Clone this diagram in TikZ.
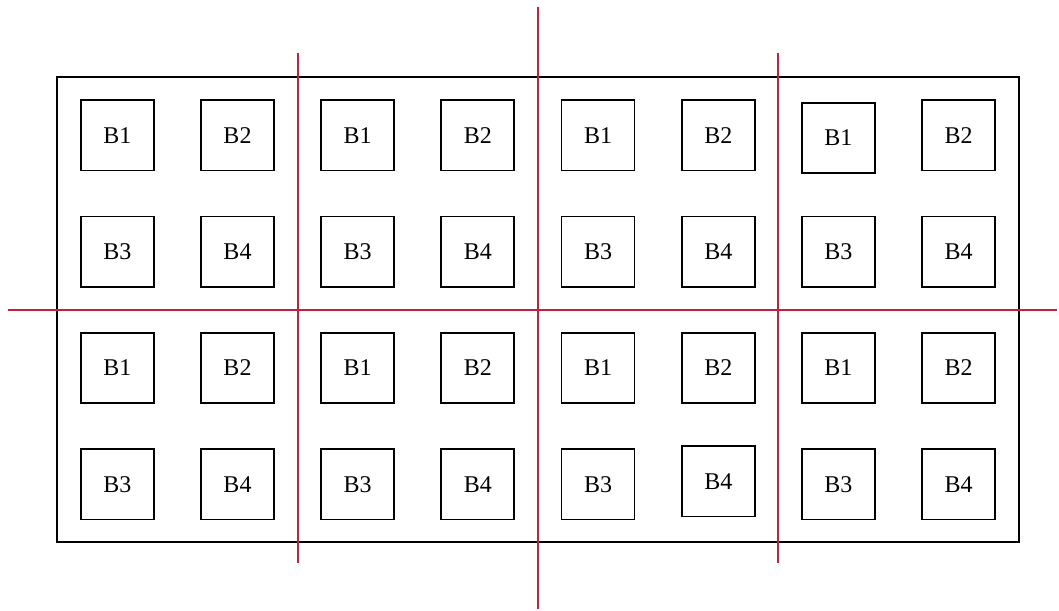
\documentclass[tikz,border=0pt]{standalone}
\usepackage{fontspec}
\setmainfont{Liberation Serif}
\definecolor{gridred}{RGB}{200,30,60}
\begin{document}
\begin{tikzpicture}[x=1pt,y=-1pt,
  cell/.style={draw=black,line width=1.8pt,minimum width=73pt,minimum height=70.5pt,inner sep=0pt,
    font=\fontsize{24}{28}\selectfont},
  frame/.style={draw=black,line width=1.8pt},
  divider/.style={draw=gridred,line width=2pt}]
\useasboundingbox (0,0) rectangle (1059,610);
\draw[frame] (57.3,77.3) rectangle (1019,541.7);
\foreach \c/\x/\ta/\tb in {1/117.3/B1/B3,2/237.5/B2/B4,3/357.5/B1/B3,4/477.8/B2/B4,
                           5/598/B1/B3,6/718.3/B2/B4,7/838.3/B1/B3,8/958.5/B2/B4}{
  \ifnum\c=7 \def\ya{138}\else\def\ya{135.3}\fi
  \ifnum\c=6 \def\yd{481.3}\else\def\yd{484.2}\fi
  \node[cell] (b-1-\c) at (\x,\ya) {\ta};
  \node[cell] (b-2-\c) at (\x,251.7) {\tb};
  \node[cell] (b-3-\c) at (\x,368) {\ta};
  \node[cell] (b-4-\c) at (\x,\yd) {\tb};
}
\coordinate (v1t) at (297.5,53);  \coordinate (v1b) at (297.5,563);
\coordinate (v2t) at (538,7);     \coordinate (v2b) at (538,609);
\coordinate (v3t) at (778,53);    \coordinate (v3b) at (778,563);
\coordinate (hl) at (8,310);      \coordinate (hr) at (1057,310);
\draw[divider] (v1t) -- (v1b);
\draw[divider] (v2t) -- (v2b);
\draw[divider] (v3t) -- (v3b);
\draw[divider] (hl) -- (hr);
\end{tikzpicture}
\end{document}
